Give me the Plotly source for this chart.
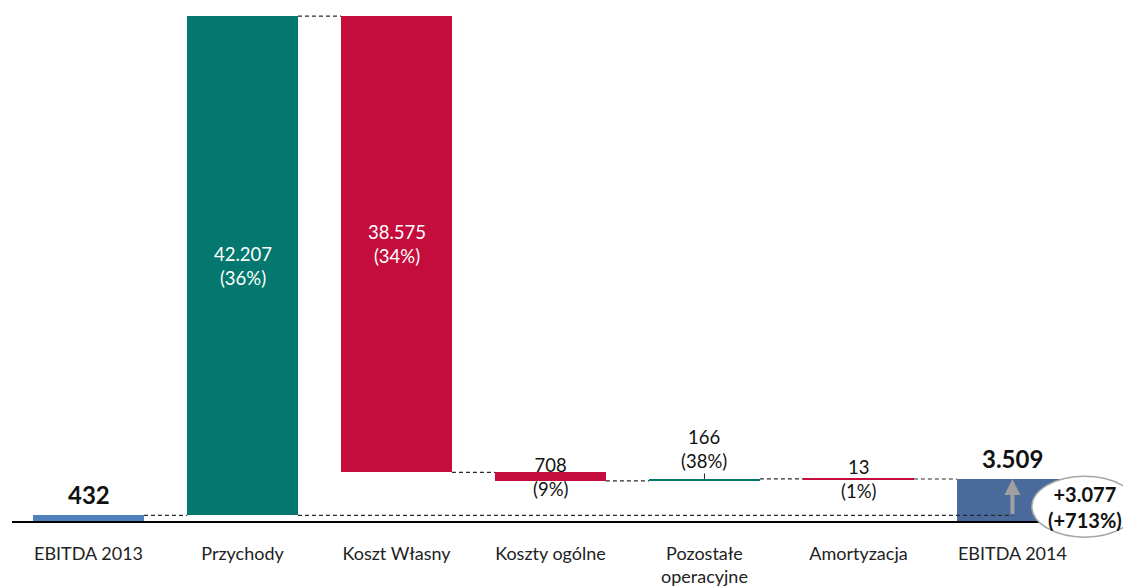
import plotly.graph_objects as go

# ---- data ----
categories = ["EBITDA 2013", "Przychody", "Koszt Własny", "Koszty ogólne",
              "Pozostałe<br>operacyjne", "Amortyzacja", "EBITDA 2014"]
changes = [432, 42207, -38575, -708, 166, -13]   # start value + changes
total_2014 = 3509
percent_labels = ["", "(36%)", "(34%)", "(9%)", "(38%)", "(1%)", ""]
diff_label = "+3.077"
diff_pct_label = "(+713%)"

colors = ["#4F81BD", "#04786E", "#C40D3C", "#C40D3C", "#04786E", "#C40D3C", "#4A6A9C"]
FONT = "Lato"


def fmt(v):
    return f"{abs(v):,}".replace(",", ".")


# waterfall geometry derived from data
bases, heights, levels = [], [], []
running = 0
for i, c in enumerate(changes):
    if i == 0:
        bases.append(0)
        heights.append(c)
        running = c
    else:
        bases.append(running if c >= 0 else running + c)
        heights.append(abs(c))
        running += c
    levels.append(running)
bases.append(0)
heights.append(total_2014)
levels.append(total_2014)
values = changes + [total_2014]
xs = list(range(len(categories)))
W = 0.72

fig = go.Figure()
fig.add_trace(go.Bar(x=xs, y=heights, base=bases, width=W,
                     marker=dict(color=colors, line=dict(width=0)),
                     hoverinfo="skip"))

shapes = []
dash_style = dict(color="#2A2A2A", width=1.2, dash="4px,3px")
# long dashed line at the starting EBITDA level
shapes.append(dict(type="line", xref="x", yref="y", x0=0 + W / 2, x1=1 - W / 2,
                   y0=levels[0], y1=levels[0], line=dash_style, layer="above"))
shapes.append(dict(type="line", xref="x", yref="y", x0=1 + W / 2, x1=6,
                   y0=levels[0], y1=levels[0], line=dash_style, layer="above"))
# connectors
for i in range(1, len(categories) - 1):
    shapes.append(dict(type="line", xref="x", yref="y", x0=i + W / 2, x1=i + 1 - W / 2,
                       y0=levels[i], y1=levels[i], line=dash_style, layer="above"))
# small leader tick for "Pozostałe operacyjne"
shapes.append(dict(type="line", xref="x", yref="y", x0=4, x1=4,
                   y0=levels[4], y1=levels[4] + 450, line=dict(color="#222", width=1)))
# callout ellipse
shapes.append(dict(type="circle", xref="paper", yref="paper",
                   x0=0.918, x1=1.013, y0=-0.031, y1=0.086,
                   fillcolor="white", line=dict(color="#A6A6A6", width=1.5), layer="above"))

annotations = []
# start / end totals
for i in (0, 6):
    annotations.append(dict(x=i, y=bases[i] + heights[i], xref="x", yref="y",
                            text=f"<b>{fmt(values[i])}</b>", showarrow=False,
                            yanchor="bottom", yshift=4,
                            font=dict(family=FONT, size=24, color="#111")))
# big bars: white inside
for i in (1, 2):
    annotations.append(dict(x=i, y=bases[i] + heights[i] / 2, xref="x", yref="y",
                            text=f"{fmt(values[i])}<br>{percent_labels[i]}", showarrow=False,
                            yanchor="middle",
                            font=dict(family=FONT, size=18.5, color="white")))
# small bars centred
for i in (3, 5):
    annotations.append(dict(x=i, y=bases[i] + heights[i] / 2, xref="x", yref="y",
                            text=f"{fmt(values[i])}<br>{percent_labels[i]}", showarrow=False,
                            yanchor="middle",
                            font=dict(family=FONT, size=18.5, color="#111")))
# above bar
annotations.append(dict(x=4, y=levels[4], xref="x", yref="y",
                        text=f"{fmt(values[4])}<br>{percent_labels[4]}", showarrow=False,
                        yanchor="bottom", yshift=5,
                        font=dict(family=FONT, size=18.5, color="#111")))
# arrow
annotations.append(dict(x=6, y=total_2014, ax=6, ay=levels[0], xref="x", yref="y",
                        axref="x", ayref="y", text="", showarrow=True,
                        arrowhead=2, arrowsize=0.8, arrowwidth=4, arrowcolor="#A0A0A0"))
# ellipse text
annotations.append(dict(x=0.9655, y=0.027, xref="paper", yref="paper",
                        text=f"<b>{diff_label}<br>{diff_pct_label}</b>", showarrow=False,
                        xanchor="center", yanchor="middle",
                        font=dict(family=FONT, size=20, color="#111")))

fig.update_layout(
    width=1123, height=587,
    margin=dict(l=12, r=0, t=0, b=66),
    paper_bgcolor="white", plot_bgcolor="white",
    showlegend=False,
    bargap=0,
    shapes=shapes, annotations=annotations,
    xaxis=dict(range=[-0.497, 6.718], tickvals=xs, ticktext=categories,
               showgrid=False, zeroline=False, showline=True, linecolor="black",
               linewidth=2, ticks="", ticklabelstandoff=15,
               tickfont=dict(family=FONT, size=18, color="#222"), fixedrange=True),
    yaxis=dict(range=[-40, 44000], visible=False, showgrid=False, zeroline=False,
               fixedrange=True),
    font=dict(family=FONT),
)

fig.write_html("out.html", config={"displayModeBar": False},
               post_script="document.body.style.margin='0px';document.body.style.overflow='hidden';")
